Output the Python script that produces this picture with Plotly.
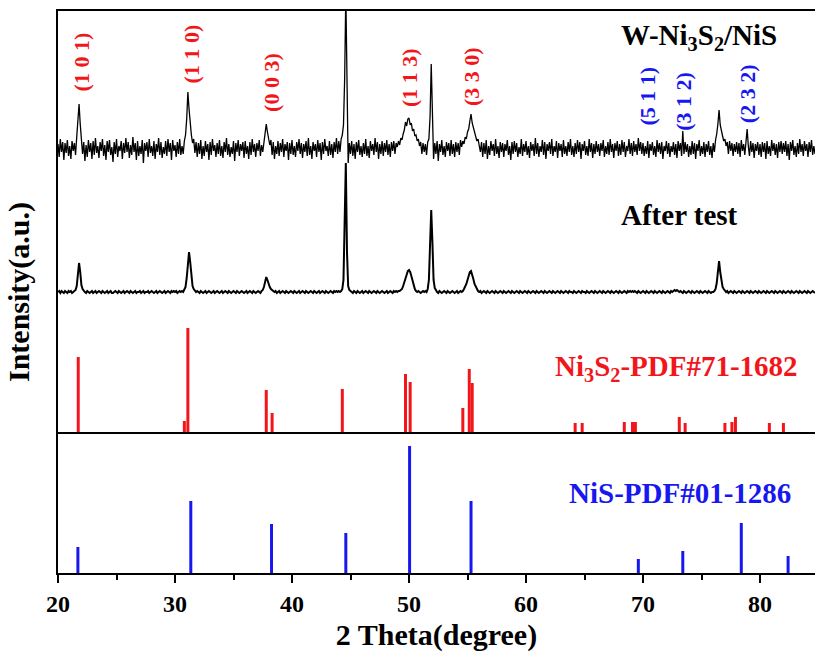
import plotly.graph_objects as go

# ---------------- data ----------------
# Measured pattern of W-Ni3S2/NiS (intensity above its own baseline, a.u.), rows of 0.1 deg steps
W_PATTERN_ROWS = [
    (20.0, [5, -8, 10, -3, 7, -11, 6, -4, 9, -7, 3, -10, 8, -2, 6, -6, 12, 28, 45, 25]),
    (22.0, [10, -5, 7, -12, 4, -8, 9, -3, 6, -10, 8, -6, 11, -4, 3, -9, 7, -2, 10, -7]),
    (24.0, [4, -11, 8, -3, 9, -6, 2, -13, 7, -5, 10, -8, 3, -2, 8, -10, 6, -4, 11, -3]),
    (26.0, [7, -9, 4, -6, 12, -3, 6, -11, 8, -7, 3, -5, 9, -14, 6, -2, 7, -8, 10, -4]),
    (28.0, [3, -7, 8, -10, 5, -3, 11, -6, 7, -9, 2, -5, 8, -7, 10, -3, 6, -11, 9, -2]),
    (30.0, [4, -8, 7, -5, 10, -6, 3, -5, 8, 14, 30, 57, 40, 22, 14, 6, 10, -4, 7, -8]),
    (32.0, [6, -5, 9, -10, 3, -7, 8, -3, 5, -11, 7, -6, 10, -2, 4, -8, 6, -5, 9, -7]),
    (34.0, [3, -9, 7, -3, 11, -6, 5, -8, 2, -5, 8, -12, 6, -3, 9, -7, 5, -2, 7, -9]),
    (36.0, [8, -5, 3, -10, 7, -6, 10, -3, 5, -8, 6, -2, 9, -7, 4, -3, 8, 14, 25, 17]),
    (38.0, [11, 4, 9, -6, 7, -10, 3, -5, 8, -7, 6, -3, 10, -8, 5, -2, 7, -11, 6, -5]),
    (40.0, [9, -6, 3, -8, 7, -2, 10, -5, 6, -9, 5, -3, 8, -7, 11, -6, 3, -10, 7, -2]),
    (42.0, [5, -8, 9, -3, 6, -11, 7, -5, 10, -2, 3, -7, 8, -6, 5, -9, 7, -3, 11, -5]),
    (44.0, [8, -3, 10, 14, 24, 70, 155, 60, -14, 6, -5, 8, -7, 5, -10, 7, -3, 9, -6, 3]),
    (46.0, [-8, 6, -5, 10, -7, 3, -9, 8, -2, 5, -6, 11, -3, 7, -10, 5, -5, 8, -7, 6]),
    (48.0, [-3, 9, -6, 5, -8, 7, -2, 8, -5, 6, 2, 8, 4, 11, 9, 15, 19, 27, 23, 30]),
    (50.0, [31, 24, 26, 18, 20, 13, 14, 8, 10, 3, 7, -5, 6, -3, 5, -6, 7, 10, 32, 85]),
    (52.0, [27, -10, 6, -5, 8, -12, 5, -3, 9, -6, 3, -8, 7, -2, 6, -7, 9, -5, 5, -8]),
    (54.0, [7, -3, 6, -6, 9, 2, 8, 5, 12, 10, 17, 20, 28, 35, 26, 21, 16, 13, 8, 10]),
    (56.0, [5, -3, 7, -8, 6, -5, 9, -10, 3, -6, 8, -2, 5, -7, 10, -5, 3, -9, 7, -3]),
    (58.0, [6, -8, 5, -2, 9, -6, 3, -11, 7, -5, 8, -3, 6, -8, 2, -5, 10, -7, 5, -3]),
    (60.0, [8, -6, 3, -9, 7, -2, 5, -7, 11, -5, 6, -8, 3, -3, 9, -6, 7, -10, 5, -2]),
    (62.0, [7, -5, 10, -7, 3, -3, 8, -9, 6, -2, 5, -8, 9, -5, 3, -7, 7, -3, 10, -6]),
    (64.0, [3, -8, 6, -5, 9, -3, 7, -10, 5, -2, 8, -6, 3, -7, 10, -3, 6, -9, 5, -5]),
    (66.0, [8, -3, 5, -7, 6, -2, 9, -8, 3, -5, 7, -6, 10, -3, 5, -9, 6, -2, 8, -7]),
    (68.0, [5, -6, 9, -3, 7, -8, 3, -2, 10, -5, 6, -7, 8, -3, 5, -6, 11, -2, 7, -5]),
    (70.0, [6, -7, 3, -5, 8, -9, 5, -2, 7, -6, 3, -8, 9, -3, 6, -5, 7, -10, 3, -2]),
    (72.0, [8, -5, 6, -8, 3, -3, 7, -6, 5, -9, 8, -2, 6, -7, 18, -5, 7, -3, 5, -8]),
    (74.0, [3, -6, 8, -5, 6, -10, 5, -2, 9, -7, 3, -5, 7, -8, 5, -3, 8, -6, 3, -9]),
    (76.0, [6, -3, 9, 15, 25, 39, 24, 17, 13, 8, 10, 3, 7, -5, 8, -2, 6, -7, 5, -3]),
    (78.0, [7, -5, 6, -8, 9, -2, 5, -6, 7, 20, 3, -7, 8, -3, 6, -9, 5, -2, 7, -6]),
    (80.0, [5, -8, 7, -3, 6, -10, 8, -5, 3, -7, 9, -2, 6, -6, 5, -9, 7, -3, 8, -5]),
    (82.0, [6, -3, 8, -7, 5, -11, 7, -2, 9, -6, 3, -8, 6, -5, 10, -3, 5, -7, 8, -2]),
    (84.0, [5, -8, 7, -3, 9, -6, 3, -5]),
]

# Measured pattern after the stability test
AFTER_PATTERN_ROWS = [
    (20.0, [0, 1, -1, 1, 0, -1, 1, 0, -1, 1, 0, 1, -1, 0, 1, 2, 6, 18, 29, 20]),
    (22.0, [7, 3, 1, 0, -1, 1, 0, -1, 0, 1, -1, 0, 1, -1, 0, 1, 0, -1, 1, 0]),
    (24.0, [-1, 0, 1, -1, 0, 1, -1, -1, 0, 1, 0, -1, 1, 0, -1, 0, 1, -1, 0, 1]),
    (26.0, [0, -1, 1, 0, -1, 0, 1, -1, 0, 0, 1, -1, 0, 1, -1, 0, 0, 1, -1, 0]),
    (28.0, [1, 0, -1, 0, 1, -1, 0, 1, 0, -1, 0, 1, -1, 0, 1, 0, -1, 1, 0, 1]),
    (30.0, [0, 1, -1, 0, 1, 0, 1, 0, 2, 5, 14, 32, 40, 30, 14, 6, 3, 1, 0, 1]),
    (32.0, [0, -1, 1, 0, -1, 0, 1, -1, 0, 1, 0, -1, 0, 1, -1, 0, 1, 0, -1, 0]),
    (34.0, [1, -1, 0, 1, 0, -1, 1, 0, -1, 0, 1, 0, -1, 1, 0, -1, 0, 1, 0, -1]),
    (36.0, [0, 1, -1, 0, 1, 0, -1, 1, 0, -1, 0, 1, 0, -1, 1, 2, 5, 11, 15, 12]),
    (38.0, [8, 5, 3, 2, 1, 0, 1, -1, 0, 1, -1, 0, 1, 0, -1, 1, 0, -1, 0, 1]),
    (40.0, [0, -1, 1, 0, -1, 0, 1, -1, 0, 1, 0, -1, 1, 0, -1, 0, 1, 0, -1, 1]),
    (42.0, [0, -1, 0, 1, -1, 0, 1, 0, -1, 1, 0, -1, 0, 1, 0, -1, 1, 0, 1, 0]),
    (44.0, [1, 0, 1, 3, 12, 70, 129, 40, 6, 2, 1, 0, -1, 1, 0, -1, 1, 0, -1, 0]),
    (46.0, [1, -1, 0, 1, 0, -1, 1, 0, -1, 0, 1, 0, -1, 1, 0, -1, 0, 1, 0, -1]),
    (48.0, [0, 1, -1, 0, 1, 0, -1, 1, 0, 1, 0, 1, 1, 2, 3, 6, 10, 15, 19, 21]),
    (50.0, [22, 20, 16, 11, 6, 3, 1, 0, 1, 0, -1, 0, 1, 0, 1, 0, 3, 12, 45, 82]),
    (52.0, [50, 12, 4, 1, 0, -1, 1, 0, -1, 0, 1, 0, -1, 1, 0, -1, 0, 1, 0, -1]),
    (54.0, [0, 1, -1, 0, 1, 0, 1, 3, 5, 8, 12, 17, 20, 21, 18, 13, 8, 5, 3, 1]),
    (56.0, [0, 1, -1, 0, 1, 0, -1, 1, 0, -1, 0, 1, 0, -1, 1, 0, -1, 0, 1, 0]),
    (58.0, [-1, 1, 0, -1, 0, 1, 0, -1, 1, 0, -1, 0, 1, 0, -1, 1, 0, -1, 0, 1]),
    (60.0, [0, -1, 1, 0, -1, 0, 1, 0, -1, 1, 0, -1, 0, 1, 0, -1, 1, 0, -1, 0]),
    (62.0, [1, 0, -1, 1, 0, -1, 0, 1, 0, -1, 1, 0, -1, 0, 1, 0, -1, 1, 0, 0]),
    (64.0, [-1, 1, 0, -1, 0, 1, 0, -1, 1, 0, 0, -1, 1, 0, -1, 0, 1, 0, -1, 1]),
    (66.0, [0, -1, 0, 1, 0, -1, 1, 0, -1, 0, 1, 0, -1, 1, 0, -1, 0, 1, 0, -1]),
    (68.0, [1, 0, -1, 0, 1, 0, -1, 1, 0, 1, 0, 1, 0, 1, 0, -1, 1, 0, -1, 0]),
    (70.0, [1, 0, -1, 1, 0, -1, 0, 1, 0, -1, 1, 0, -1, 0, 1, 0, -1, 1, 0, -1]),
    (72.0, [0, 1, 0, -1, 1, 0, 1, 2, 1, 2, 1, 0, 1, 0, -1, 1, 0, -1, 0, 1]),
    (74.0, [0, -1, 1, 0, -1, 0, 1, 0, -1, 1, 0, -1, 0, 1, 0, -1, 1, 0, -1, 0]),
    (76.0, [0, 1, 3, 9, 22, 31, 20, 10, 5, 3, 1, 0, 1, -1, 0, 1, 0, -1, 1, 0]),
    (78.0, [-1, 0, 1, 0, -1, 1, 0, -1, 0, 1, 0, -1, 1, 0, -1, 0, 1, 0, -1, 1]),
    (80.0, [0, -1, 0, 1, 0, -1, 1, 0, -1, 0, 1, 0, -1, 1, 0, -1, 0, 1, 0, -1]),
    (82.0, [1, 0, -1, 0, 1, 0, -1, 1, 0, -1, 0, 1, 0, -1, 1, 0, -1, 0, 1, 0]),
    (84.0, [-1, 1, 0, -1, 0, 1, 0, -1]),
]
STEP = 0.1

# Standard cards (stick positions / relative heights)
NI3S2_POS = [21.73, 30.8, 31.1, 37.8, 38.3, 44.3, 49.7, 50.1, 54.6, 55.15, 55.4,
             64.2, 64.8, 68.4, 69.1, 69.35, 73.1, 73.6, 77.0, 77.6, 77.9, 80.8, 82.0]
NI3S2_H = [76, 12, 105, 43, 20, 44, 59, 51, 25, 64, 50,
           10, 10, 11, 11, 11, 16, 10, 10, 11, 16, 10, 10]
NIS_POS = [21.7, 31.35, 38.25, 44.6, 50.05, 55.3, 69.6, 73.4, 78.4, 82.4]
NIS_H = [26, 72, 49, 40, 127, 72, 14, 22, 50, 17]

# hkl labels
HKL_RED = ["(1 0 1)", "(1 1 0)", "(0 0 3)", "(1 1 3)", "(3 3 0)"]
HKL_RED_X = [22.0, 31.4, 38.2, 50.0, 55.3]
HKL_BLUE = ["(5 1 1)", "(3 1 2)", "(2 3 2)"]
HKL_BLUE_X = [70.3, 73.4, 78.9]

# vertical offsets of the stacked panels (a.u.)
OFF_W, OFF_AFTER, OFF_NI3S2, OFF_NIS = 424, 281, 140, 0

RED = "#f2161b"
BLUE = "#1717f0"
FONT = "Liberation Serif, Times New Roman, serif"


def expand(rows, offset):
    xs, ys = [], []
    for start, vals in rows:
        for j, v in enumerate(vals):
            xs.append(round(start + STEP * j, 2))
            ys.append(v + offset)
    return xs, ys


def sticks(pos, h, base):
    xs, ys = [], []
    for p, v in zip(pos, h):
        xs += [p, p, None]
        ys += [base, base + v, None]
    return xs, ys


fig = go.Figure()

xw, yw = expand(W_PATTERN_ROWS, OFF_W)
fig.add_trace(go.Scatter(x=xw, y=yw, mode="lines", line=dict(color="black", width=1.3),
                         showlegend=False, hoverinfo="skip"))
xa, ya = expand(AFTER_PATTERN_ROWS, OFF_AFTER)
fig.add_trace(go.Scatter(x=xa, y=ya, mode="lines", line=dict(color="black", width=2),
                         showlegend=False, hoverinfo="skip"))
xs, ys = sticks(NI3S2_POS, NI3S2_H, OFF_NI3S2)
fig.add_trace(go.Scatter(x=xs, y=ys, mode="lines", line=dict(color=RED, width=3),
                         showlegend=False, hoverinfo="skip"))
xs, ys = sticks(NIS_POS, NIS_H, OFF_NIS)
fig.add_trace(go.Scatter(x=xs, y=ys, mode="lines", line=dict(color=BLUE, width=3),
                         showlegend=False, hoverinfo="skip"))

# separator between the two reference cards
fig.add_shape(type="line", xref="paper", yref="y", x0=0, x1=1, y0=OFF_NI3S2, y1=OFF_NI3S2,
              line=dict(color="black", width=2))

hkl_red_y = [511, 519, 491, 495, 496]
hkl_blue_y = [477, 472, 479]
for t, x, y in zip(HKL_RED, HKL_RED_X, hkl_red_y):
    fig.add_annotation(x=x, y=y, text="<b>" + t + "</b>", textangle=-90, showarrow=False,
                       font=dict(family=FONT, size=22, color=RED))
for t, x, y in zip(HKL_BLUE, HKL_BLUE_X, hkl_blue_y):
    fig.add_annotation(x=x, y=y, text="<b>" + t + "</b>", textangle=-90, showarrow=False,
                       font=dict(family=FONT, size=22, color=BLUE))

fig.add_annotation(x=74.8, y=536, text="<b>W-Ni<sub>3</sub>S<sub>2</sub>/NiS</b>", showarrow=False,
                   font=dict(family=FONT, size=29, color="black"))
fig.add_annotation(x=73.1, y=358, text="<b>After test</b>", showarrow=False,
                   font=dict(family=FONT, size=29, color="black"))
fig.add_annotation(x=72.9, y=205, text="<b>Ni<sub>3</sub>S<sub>2</sub>-PDF#71-1682</b>", showarrow=False,
                   font=dict(family=FONT, size=29, color=RED))
fig.add_annotation(x=73.2, y=80, text="<b>NiS-PDF#01-1286</b>", showarrow=False,
                   font=dict(family=FONT, size=29, color=BLUE))

fig.update_layout(
    width=815, height=661,
    margin=dict(l=58, r=0, t=11, b=88),
    paper_bgcolor="white", plot_bgcolor="white",
    font=dict(family=FONT, color="black"),
    xaxis=dict(
        range=[20, 84.7], showgrid=False, zeroline=False,
        showline=True, linecolor="black", linewidth=2, mirror=True,
        ticks="outside", ticklen=8, tickwidth=2, tickcolor="black",
        tickvals=[20, 30, 40, 50, 60, 70, 80],
        minor=dict(tickvals=[25, 35, 45, 55, 65, 75], ticks="outside", ticklen=5,
                   tickwidth=2, tickcolor="black"),
        tickfont=dict(family=FONT, size=24, weight="bold"),
        title=dict(text="<b>2 Theta(degree)</b>", font=dict(family=FONT, size=30),
                   standoff=8),
    ),
    yaxis=dict(
        range=[0, 562], showgrid=False, zeroline=False,
        showline=True, linecolor="black", linewidth=2, mirror=False,
        ticks="", showticklabels=False,
        title=dict(text="<b>Intensity(a.u.)</b>", font=dict(family=FONT, size=30),
                   standoff=18),
    ),
)

fig.write_html("out.html")
